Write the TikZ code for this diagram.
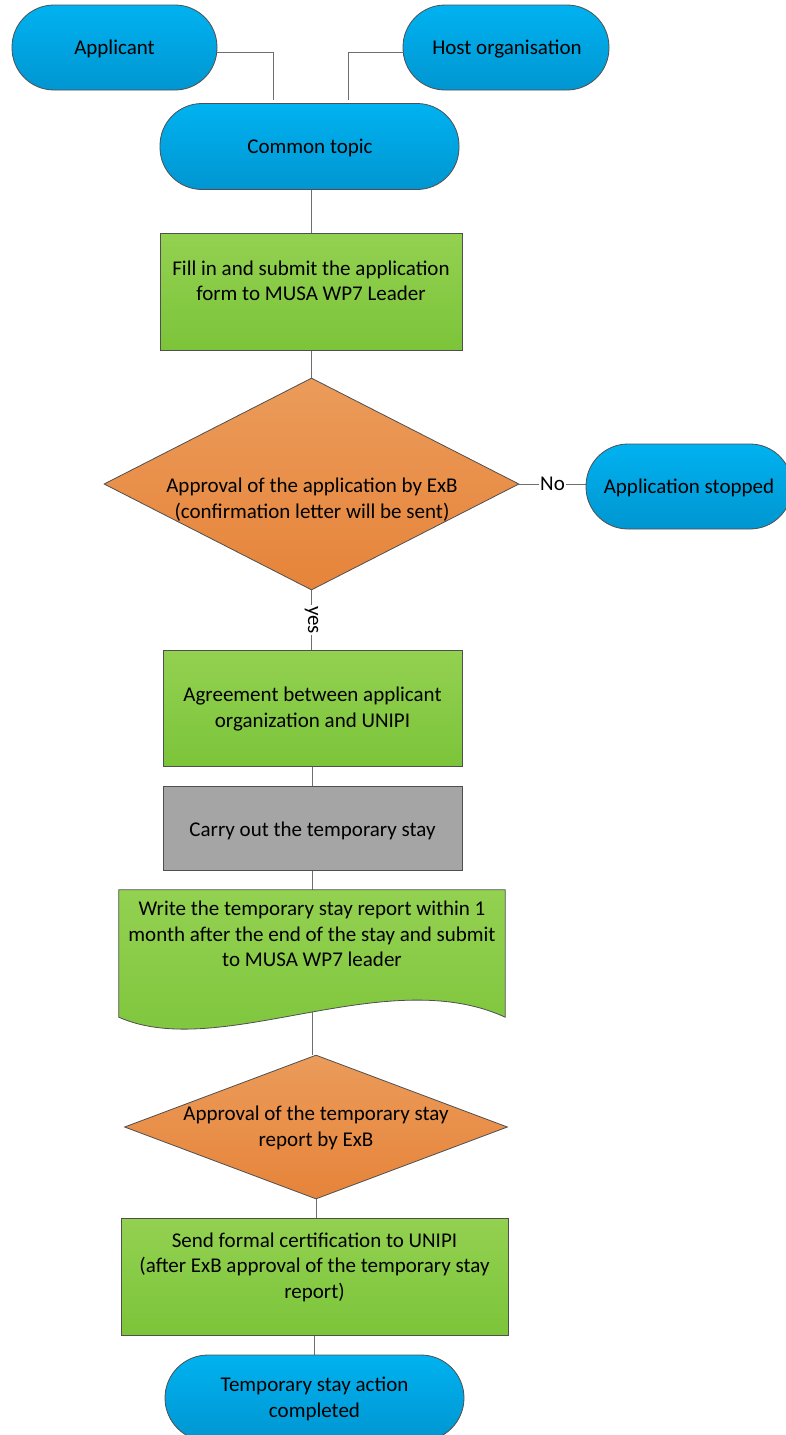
\documentclass[tikz,border=0pt]{standalone}
\usepackage{fontspec}
\setmainfont{Carlito}
\usetikzlibrary{shapes.geometric,backgrounds}
\definecolor{bluetop}{HTML}{00B2F0}
\definecolor{bluebot}{HTML}{0096D1}
\definecolor{greentop}{HTML}{93D151}
\definecolor{greenbot}{HTML}{7CC43A}
\definecolor{orangetop}{HTML}{EB9B5A}
\definecolor{orangebot}{HTML}{E6843A}
\definecolor{graybox}{HTML}{A5A5A5}
\definecolor{border}{HTML}{4F4F4F}
\definecolor{conn}{HTML}{6E6E6E}
\begin{document}
\begin{tikzpicture}[x=1pt,y=-1pt,
  every node/.style={font=\fontsize{21}{25.5}\selectfont, text=black},
  txt/.style={align=center, inner sep=0pt},
  term/.style={draw=border, line width=0.8pt, top color=bluetop, bottom color=bluebot, inner sep=0pt, align=center},
  procbox/.style={draw=border, line width=0.8pt, top color=greentop, bottom color=greenbot, inner sep=0pt},
  graybx/.style={draw=border, line width=0.8pt, fill=graybox, inner sep=0pt},
  decision/.style={diamond, draw=border, line width=0.8pt, top color=orangetop, bottom color=orangebot, inner sep=0pt},
  link/.style={draw=conn, line width=1pt},
  lbl/.style={fill=white, inner sep=1pt}]
\useasboundingbox (0,0) rectangle (786,1435);

% terminators (shapes, then texts)
\node[term, rounded corners=42pt, minimum width=205pt, minimum height=85pt] (app) at (114.5,47.5) {};
\node[txt] (appt) at (114.5,49) {Applicant};
\node[term, rounded corners=42pt, minimum width=206pt, minimum height=85pt] (host) at (506,47.5) {};
\node[txt] (hostt) at (507,49) {Host organisation};
\node[term, rounded corners=42pt, minimum width=299pt, minimum height=86pt] (ct) at (309.5,146.5) {};
\node[txt] (ctt) at (310,148) {Common topic};

% fill in box
\node[procbox, minimum width=302pt, minimum height=117pt] (fill) at (311,291.5) {};
\node[txt] (fillt) at (311,281) {Fill in and submit the application\\form to MUSA WP7 Leader};

% decision 1
\node[decision, minimum width=415pt, minimum height=212pt] (d1) at (311.5,484) {};
\node[txt] (d1t) at (312,499.5) {Approval of the application by ExB\\(confirmation letter will be sent)};

% application stopped
\node[term, rounded corners=42pt, minimum width=206pt, minimum height=85pt] (stop) at (689,486.5) {};
\node[txt] (stopt) at (689,488) {Application stopped};

% agreement
\node[procbox, minimum width=299pt, minimum height=116pt] (agree) at (312.5,708) {};
\node[txt] (agreet) at (312.5,709) {Agreement between applicant\\organization and UNIPI};

% carry out
\node[graybx, minimum width=299pt, minimum height=84pt] (carry) at (312.5,828) {};
\node[txt] (carryt) at (312.5,830.5) {Carry out the temporary stay};

% document
\node[inner sep=0pt, minimum width=386pt, minimum height=127pt] (doc) at (312,953.5) {};
\path[draw=border, line width=0.8pt, top color=greentop, bottom color=greenbot]
  (doc.north west) -- (doc.north east) -- (doc.south east)
  .. controls (385,962) and (220,1062) .. (doc.south west) -- cycle;
\node[txt] (doct) at (312,934) {Write the temporary stay report within 1\\month after the end of the stay and submit\\to MUSA WP7 leader};

% decision 2
\node[decision, minimum width=383pt, minimum height=144pt] (d2) at (316,1127) {};
\node[txt] (d2t) at (316,1128) {Approval of the temporary stay\\report by ExB};

% send
\node[procbox, minimum width=387pt, minimum height=117pt] (send) at (314.5,1276.5) {};
\node[txt] (sendt) at (314.5,1267) {Send formal certification to UNIPI\\ (after ExB approval of the temporary stay\\report)};

% done
\node[term, rounded corners=43pt, minimum width=299pt, minimum height=86pt] (done) at (314.5,1398) {};
\node[txt] (donet) at (314.5,1399) {Temporary stay action\\completed};

% connectors
\coordinate (jA) at (273,100);
\coordinate (jH) at (348,100);
\coordinate (yline) at (0,52);
\begin{pgfonlayer}{background}
\draw[link] (app.east |- yline) -| (jA);
\draw[link] (host.west |- yline) -| (jH);
\draw[link] (ct.south -| fill.north) -- (fill.north);
\draw[link] (d1.north |- fill.south) -- (d1.north);
\draw[link] (d1.east) -- (d1.east -| stop.west) node[lbl, pos=0.5] (no) {No};
\draw[link] (d1.south) -- (d1.south |- agree.north) node[lbl, pos=0.5, rotate=-90] (yes) {yes};
\draw[link] (agree.south -| carry.north) -- (carry.north);
\draw[link] (carry.south) -- (carry.south |- doc.north);
\draw[link] (d2.north -| carry.south) ++(0,-45) -- (d2.north -| carry.south);
\draw[link] (d2.south) -- (d2.south |- send.north);
\draw[link] (send.south) -- (send.south |- done.north);
\end{pgfonlayer}
\end{tikzpicture}
\end{document}
